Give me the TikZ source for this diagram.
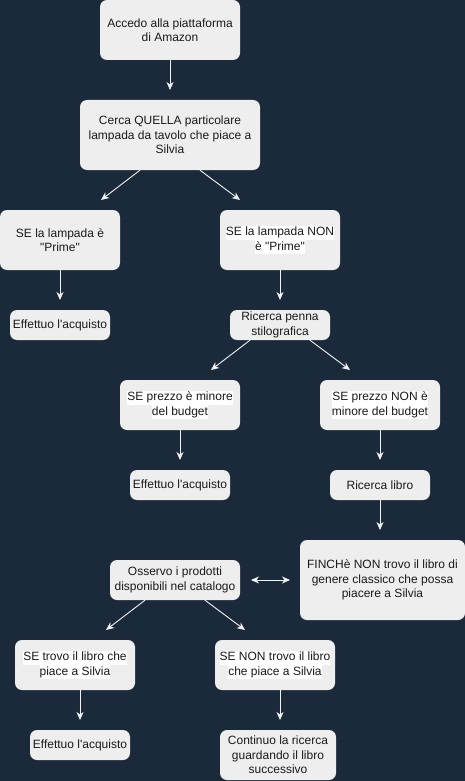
\documentclass[tikz,border=0pt]{standalone}
\usepackage{fontspec}
\setmainfont{Liberation Sans}
\usetikzlibrary{arrows.meta,calc}
\definecolor{bg}{HTML}{1B2A3B}
\definecolor{boxfill}{HTML}{EEEEEE}
\definecolor{linecol}{HTML}{F2F2F2}
\definecolor{txt}{HTML}{1A1A1A}
\newcommand\hlt[1]{{\setlength{\fboxsep}{0pt}\colorbox{white}{\strut #1}}}
\newcommand\dq{\textquotedbl}
\newcommand\sq{\textquotesingle}
\begin{document}
\begin{tikzpicture}[x=1pt,y=-1pt,
  box/.style={draw=none, fill=boxfill, rounded corners=7pt, align=center,
    font=\fontsize{12}{14.4}\selectfont, text=txt, inner sep=0pt},
  arr/.style={draw=linecol, line width=0.9pt, -{Stealth[length=8pt,width=7pt,inset=2.5pt]}},
  darr/.style={draw=linecol, line width=0.9pt, {Stealth[length=8pt,width=7pt,inset=2.5pt]}-{Stealth[length=8pt,width=7pt,inset=2.5pt]}}
]
\fill[bg] (0,0) rectangle (465,781);
\useasboundingbox (0,0) rectangle (465,781);

\node[box, minimum width=140pt, minimum height=60pt] (n1) at (170,30) {Accedo alla piattaforma\\di Amazon};
\node[box, minimum width=180pt, minimum height=70pt] (n2) at (170,135) {Cerca QUELLA particolare\\lampada da tavolo che piace a\\Silvia};
\node[box, minimum width=120pt, minimum height=60pt] (n3) at (60,240) {SE la lampada è\\\dq Prime\dq};
\node[box, minimum width=120pt, minimum height=60pt] (n4) at (280,240) {\hlt{SE la lampada NON}\\\hlt{è \dq Prime\dq}};
\node[box, minimum width=100pt, minimum height=30pt] (n5) at (60,325) {Effettuo l\sq acquisto};
\node[box, minimum width=100pt, minimum height=30pt] (n6) at (280,325) {Ricerca penna\\stilografica};
\node[box, minimum width=120pt, minimum height=50pt] (n7) at (180,405) {\hlt{SE prezzo è minore}\\\hlt{del budget}};
\node[box, minimum width=120pt, minimum height=50pt] (n8) at (380,405) {\hlt{SE prezzo NON è}\\\hlt{minore del budget}};
\node[box, minimum width=100pt, minimum height=30pt] (n9) at (180,485) {Effettuo l\sq acquisto};
\node[box, minimum width=100pt, minimum height=30pt] (n10) at (380,485) {Ricerca libro};
\node[box, minimum width=165pt, minimum height=80pt] (n11) at (382.5,580) {FINCHè NON trovo il libro di\\genere classico che possa\\piacere a Silvia};
\node[box, minimum width=130pt, minimum height=40pt] (n12) at (175,580) {Osservo i prodotti\\disponibili nel catalogo};
\node[box, minimum width=120pt, minimum height=50pt] (n13) at (75,665) {\hlt{SE trovo il libro che}\\\hlt{piace a Silvia}};
\node[box, minimum width=120pt, minimum height=50pt] (n14) at (275,665) {\hlt{SE NON trovo il libro}\\\hlt{che piace a Silvia}};
\node[box, minimum width=100pt, minimum height=30pt] (n15) at (80,745) {Effettuo l\sq acquisto};
\node[box, minimum width=116pt, minimum height=50pt] (n16) at (278,755) {Continuo la ricerca\\guardando il libro\\successivo};

% free ends
\coordinate (e1) at (170,90);
\coordinate (e2a) at (101,200);
\coordinate (e2b) at (240,200);
\coordinate (e3) at (60,300);
\coordinate (e4) at (280,300);
\coordinate (e6a) at (211,370);
\coordinate (e6b) at (350,370);
\coordinate (e7) at (180,460);
\coordinate (e8) at (380,460);
\coordinate (e10) at (380,530);
\coordinate (e12a) at (106,630);
\coordinate (e12b) at (245,630);
\coordinate (e13) at (80,690);
\coordinate (e13e) at (80,720);
\coordinate (e14) at (280,690);
\coordinate (e14e) at (280,720);
\coordinate (dA) at (251,580);
\coordinate (dB) at (290,580);

\draw[arr] (n1.south) -- (e1);
\draw[arr] ($(n2.south)+(-30,0)$) -- (e2a);
\draw[arr] ($(n2.south)+(30,0)$) -- (e2b);
\draw[arr] (n3.south) -- (e3);
\draw[arr] (n4.south) -- (e4);
\draw[arr] ($(n6.south)+(-30,0)$) -- (e6a);
\draw[arr] ($(n6.south)+(30,0)$) -- (e6b);
\draw[arr] (n7.south) -- (e7);
\draw[arr] (n8.south) -- (e8);
\draw[arr] (n10.south) -- (e10);
\draw[arr] ($(n12.south)+(-30,0)$) -- (e12a);
\draw[arr] ($(n12.south)+(30,0)$) -- (e12b);
\draw[arr] (e13) -- (e13e);
\draw[arr] (e14) -- (e14e);
\draw[darr] (dA) -- (dB);
\end{tikzpicture}
\end{document}
